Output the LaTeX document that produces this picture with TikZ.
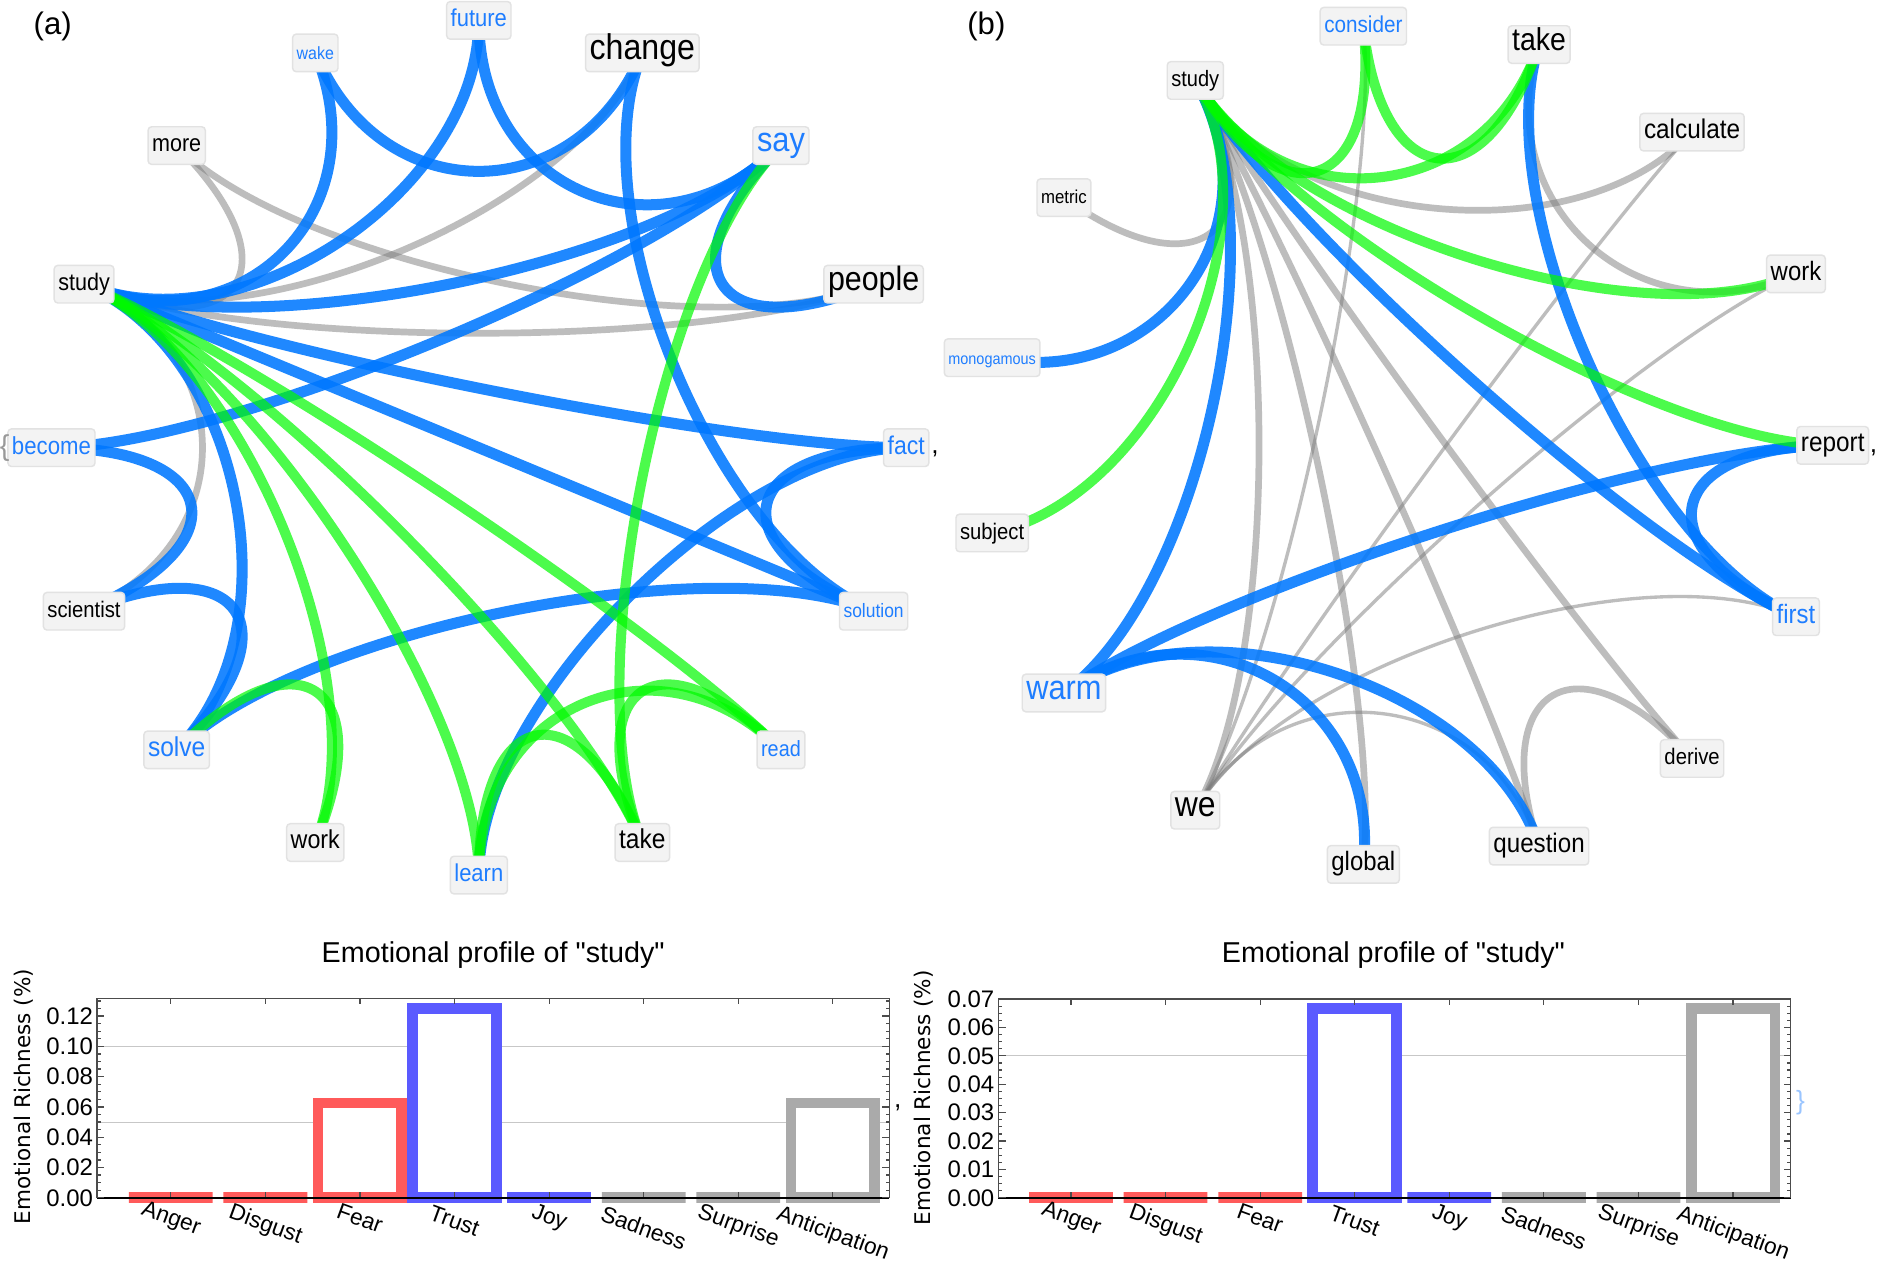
\documentclass[tikz,border=0pt]{standalone}
\usepackage{fontspec}
\setmainfont[Ligatures=TeXOff]{Liberation Sans}
\newfontfamily\labfont[FakeStretch=0.9]{Liberation Sans}
\newfontfamily\axfont{DejaVu Sans}
\usetikzlibrary{calc}

\definecolor{wordblue}{RGB}{30,125,255}
\definecolor{linkblue}{RGB}{0,120,255}
\definecolor{linkgreen}{RGB}{0,250,0}
\definecolor{linkgray}{RGB}{125,125,125}
\definecolor{labelbg}{RGB}{243,243,243}
\definecolor{labelrim}{RGB}{226,226,226}
\definecolor{barred}{RGB}{255,90,90}
\definecolor{barblue}{RGB}{90,90,255}
\definecolor{bargray}{RGB}{170,170,170}

\pgfdeclarelayer{edges}
\pgfsetlayers{edges,main}

\tikzset{
  word/.style={fill=labelbg,draw=labelrim,line width=0.6pt,rounded corners=1.5pt,
    inner xsep=.17em,inner ysep=.3em,text height=.75em,text depth=.22em},
  sz/.style={font=\labfont\fontsize{#1}{#1}\selectfont},
  kw/.style={word,text=black},
  bw/.style={word,text=wordblue},
  bluelink/.style={draw=linkblue,draw opacity=.88,line width=4.6pt},
  greenlink/.style={draw=linkgreen,draw opacity=.7,line width=4.2pt},
  graylink/.style={draw=linkgray,draw opacity=.5,line width=2.8pt},
  thinlink/.style={draw=linkgray,draw opacity=.5,line width=1.4pt},
  toward/.style={to path={.. controls ($(\tikztostart)!.4!(#1)$) and ($(\tikztotarget)!.4!(#1)$) .. (\tikztotarget)}},
  paneltag/.style={font=\fontsize{13}{13}\selectfont},
  charttitle/.style={font=\fontsize{12}{12}\selectfont},
  catlab/.style={font=\fontsize{9.5}{9.5}\selectfont,rotate=-20,inner sep=0pt},
  ticklab/.style={font=\fontsize{10}{10}\selectfont,anchor=east,inner sep=0pt},
  yaxlab/.style={font=\axfont\fontsize{9}{9}\selectfont,rotate=90,inner sep=0pt},
  plotframe/.style={draw=black!70,line width=0.5pt},
  gridline/.style={draw=black!22,line width=0.4pt},
  barline/.style={line width=4.5pt,fill=white},
  stray/.style={font=\fontsize{11}{11}\selectfont,inner sep=0pt}
}

\begin{document}
\begin{tikzpicture}[x=0.5pt,y=-0.5pt]
\useasboundingbox (0,0) rectangle (1568,1054);

% ---- panel (a): words round "study"
\node[paneltag] (atag) at (44,22) {(a)};
\coordinate (actr) at (400,374);
\node[bw,sz=10.7] (afact) at (757,374) {fact};
\node[kw,sz=14.1] (apeople) at (729.8,237.4) {people};
\node[bw,sz=14.3] (asay) at (652.4,121.6) {say};
\node[kw,sz=14.9] (achange) at (536.6,44.2) {change};
\node[bw,sz=10.2] (afuture) at (400,17) {future};
\node[bw,sz=7.4] (awake) at (263.4,44.2) {wake};
\node[kw,sz=10] (amore) at (147.6,121.6) {more};
\node[kw,sz=10] (astudy) at (70.2,237.4) {study};
\node[bw,sz=10.3] (abecome) at (43,374) {become};
\node[kw,sz=9.4] (ascientist) at (70.2,510.6) {scientist};
\node[bw,sz=11.4] (asolve) at (147.6,626.4) {solve};
\node[kw,sz=10.8] (awork) at (263.4,703.8) {work};
\node[bw,sz=10.2] (alearn) at (400,731) {learn};
\node[kw,sz=11.4] (atake) at (536.6,703.8) {take};
\node[bw,sz=9.2] (aread) at (652.4,626.4) {read};
\node[bw,sz=8.1] (asolution) at (729.8,510.6) {solution};
\node[stray,font=\fontsize{12}{12}\selectfont,text=black!40] (abrace) at (4,374) {\{};
\node[stray] (acomma) at (781,379) {,};

% ---- panel (b)
\node[paneltag] (btag) at (824,22) {(b)};
\coordinate (bctr) at (1176,372);
\node[kw,sz=11.3] (breport) at (1531,372) {report};
\node[kw,sz=11.1] (bwork) at (1500.3,228.8) {work};
\node[kw,sz=11.3] (bcalculate) at (1413.5,110.4) {calculate};
\node[kw,sz=13.2] (btake) at (1285.7,37.2) {take};
\node[bw,sz=9.6] (bconsider) at (1138.9,21.9) {consider};
\node[kw,sz=9.3] (bstudy) at (998.5,67.2) {study};
\node[kw,sz=7.8] (bmetric) at (888.8,165.1) {metric};
\node[bw,sz=6.7] (bmonogamous) at (828.8,298.8) {monogamous};
\node[kw,sz=9.4] (bsubject) at (828.8,445.2) {subject};
\node[bw,sz=14.3] (bwarm) at (888.8,578.9) {warm};
\node[kw,sz=14.8] (bwe) at (998.5,676.8) {we};
\node[kw,sz=11.1] (bglobal) at (1138.9,722.1) {global};
\node[kw,sz=11.2] (bquestion) at (1285.7,706.8) {question};
\node[kw,sz=9.4] (bderive) at (1413.5,633.6) {derive};
\node[bw,sz=11.1] (bfirst) at (1500.3,515.2) {first};
\node[stray] (bcomma) at (1565,378) {,};

% links sit under the word boxes
\begin{pgfonlayer}{edges}
\fill[white] (0,0) rectangle (1568,1054);
\foreach \u/\v in {more/people,more/study,study/change,study/people,scientist/study}
  \draw[graylink] (a\u.center) to[toward=actr] (a\v.center);
\foreach \u/\v in {wake/change,wake/study,future/study,future/say,say/study,say/people,
    say/become,study/fact,study/solution,study/solve,change/solution,fact/solution,
    fact/learn,become/scientist,scientist/solve,solve/solution}
  \draw[bluelink] (a\u.center) to[toward=actr] (a\v.center);
\foreach \u/\v in {study/work,study/learn,study/take,study/read,say/take,solve/work,
    learn/take,learn/read,take/read}
  \draw[greenlink] (a\u.center) to[toward=actr] (a\v.center);

\foreach \u/\v in {study/metric,study/calculate,take/work,study/we,study/global,
    study/question,study/derive,question/derive}
  \draw[graylink] (b\u.center) to[toward=bctr] (b\v.center);
\foreach \u/\v in {consider/we,calculate/we,work/we,we/question,we/first}
  \draw[thinlink] (b\u.center) to[toward=bctr] (b\v.center);
\foreach \u/\v in {study/monogamous,study/warm,study/first,take/first,report/first,
    warm/report,warm/global,warm/question}
  \draw[bluelink] (b\u.center) to[toward=bctr] (b\v.center);
\foreach \u/\v in {study/consider,study/take,consider/take,study/work,study/report,
    study/subject}
  \draw[greenlink] (b\u.center) to[toward=bctr] (b\v.center);
\end{pgfonlayer}

% ---- emotional profile (a)
\node[charttitle] (atitle) at (412,798) {Emotional profile of "study"};
\node[yaxlab] (aylab) at (20,916) {Emotional Richness (\%)};
\draw[gridline] (81,937.35) -- (743,937.35) (81,874.1) -- (743,874.1);
\foreach \cat/\h/\col/\dy [count=\i from 0] in {Anger/0/barred/18,Disgust/0/barred/23,
    Fear/79.1/barred/17,Trust/158.1/barblue/19,Joy/0/barblue/17,Sadness/0/bargray/25,
    Surprise/0/bargray/24,Anticipation/79.1/bargray/30.5}
{
  \draw[barline,draw=\col] ({107.7+79*\i},1000.6) rectangle ({177.7+79*\i},{1000.6-\h});
  \node[catlab] (acat\i) at ({142.7+79*\i},{1000.6+\dy}) {\cat};
  \draw[plotframe] ({142.7+79*\i},834) -- ++(0,5) ({142.7+79*\i},1000.6) -- ++(0,-5);
}
\draw[plotframe] (81,834) rectangle (743,1000.6);
\draw[black,line width=0.8pt] (81,1000.6) -- (743,1000.6);
\foreach \k in {0,...,26}
  \draw[plotframe] (81,{1000.6-6.325*\k}) -- ++(3,0) (743,{1000.6-6.325*\k}) -- ++(-3,0);
\foreach \t [count=\k from 0] in {0.00,0.02,0.04,0.06,0.08,0.10,0.12}
{
  \draw[plotframe] (81,{1000.6-25.3*\k}) -- ++(6,0) (743,{1000.6-25.3*\k}) -- ++(-6,0);
  \node[ticklab] (atick\k) at (78,{1000.6-25.3*\k}) {\t};
}
\node[stray] (midcomma) at (750,925) {,};

% ---- emotional profile (b)
\node[charttitle] (btitle) at (1164,798) {Emotional profile of "study"};
\node[yaxlab] (bylab) at (772,917) {Emotional Richness (\%)};
\draw[gridline] (834,882.05) -- (1496,882.05);
\foreach \cat/\h/\col/\dy [count=\i from 0] in {Anger/0/barred/18,Disgust/0/barred/23,
    Fear/0/barred/17,Trust/158.1/barblue/19,Joy/0/barblue/17,Sadness/0/bargray/25,
    Surprise/0/bargray/24,Anticipation/158.1/bargray/30.5}
{
  \draw[barline,draw=\col] ({859.7+79*\i},1000.6) rectangle ({929.7+79*\i},{1000.6-\h});
  \node[catlab] (bcat\i) at ({894.7+79*\i},{1000.6+\dy}) {\cat};
  \draw[plotframe] ({894.7+79*\i},834.6) -- ++(0,5) ({894.7+79*\i},1000.6) -- ++(0,-5);
}
\draw[plotframe] (834,834.6) rectangle (1496,1000.6);
\draw[black,line width=0.8pt] (834,1000.6) -- (1496,1000.6);
\foreach \k in {0,...,28}
  \draw[plotframe] (834,{1000.6-5.928*\k}) -- ++(3,0) (1496,{1000.6-5.928*\k}) -- ++(-3,0);
\foreach \t [count=\k from 0] in {0.00,0.01,0.02,0.03,0.04,0.05,0.06,0.07}
{
  \draw[plotframe] (834,{1000.6-23.71*\k}) -- ++(6,0) (1496,{1000.6-23.71*\k}) -- ++(-6,0);
  \node[ticklab] (btick\k) at (831,{1000.6-23.71*\k}) {\t};
}
\node[stray,text=wordblue!45] (endbrace) at (1504,921) {\}};
\end{tikzpicture}
\end{document}
